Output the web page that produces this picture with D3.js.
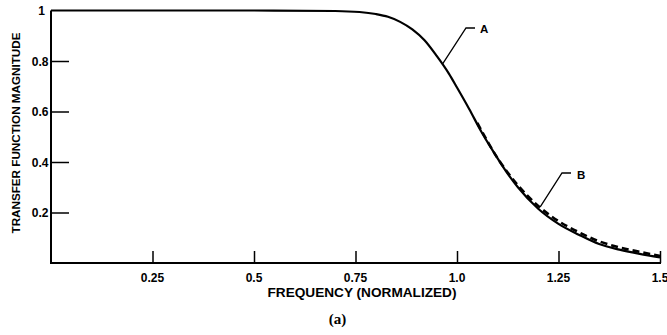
<!DOCTYPE html>
<html><head><meta charset="utf-8">
<script src="https://cdn.jsdelivr.net/npm/d3@7"></script>
<style>
html,body{margin:0;padding:0;background:#fff;}
svg{display:block;}
text{font-family:"Liberation Sans",Arial,sans-serif;fill:#000;}
</style></head>
<body>
<svg id="c" width="667" height="335"></svg>
<script>
const freqA = [0, 0.25, 0.5, 0.7, 0.76, 0.8, 0.83, 0.86, 0.89, 0.92, 0.95, 0.98, 1.0, 1.03, 1.06, 1.09, 1.12, 1.15, 1.2, 1.25, 1.3, 1.35, 1.4, 1.45, 1.5];
const magA  = [1.0, 1.0, 1.0, 0.998, 0.994, 0.986, 0.975, 0.955, 0.925, 0.882, 0.82, 0.75, 0.695, 0.61, 0.52, 0.44, 0.365, 0.30, 0.215, 0.155, 0.112, 0.075, 0.053, 0.036, 0.022];
const freqB = [1.05, 1.1, 1.15, 1.2, 1.25, 1.3, 1.35, 1.4, 1.45, 1.5];
const magB  = [0.555, 0.415, 0.308, 0.226, 0.166, 0.122, 0.086, 0.062, 0.044, 0.028];
const xTicks = [0.25, 0.5, 0.75, 1.0, 1.25, 1.5];
const xTickLabels = ["0.25", "0.5", "0.75", "1.0", "1.25", "1.5"];
const yTicks = [0.2, 0.4, 0.6, 0.8, 1.0];
const yTickLabels = ["0.2", "0.4", "0.6", "0.8", "1"];

const svg = d3.select("#c");
const x = d3.scaleLinear().domain([0, 1.5]).range([51, 660]);
const y = d3.scaleLinear().domain([0, 1]).range([263, 10.5]);

// axes frame
svg.append("line").attr("x1", x(0)).attr("x2", x(0)).attr("y1", y(1)).attr("y2", y(0))
  .attr("stroke", "#000").attr("stroke-width", 2);
svg.append("line").attr("x1", x(0) - 1).attr("x2", x(1.5) + 1).attr("y1", y(0)).attr("y2", y(0))
  .attr("stroke", "#000").attr("stroke-width", 2);

// x ticks (upward)
const xAxis = d3.axisTop(x).tickValues(xTicks).tickSize(12).tickFormat("");
const gx = svg.append("g").attr("transform", `translate(0,${y(0)})`).call(xAxis);
gx.select(".domain").remove();
gx.selectAll(".tick line").attr("stroke", "#000").attr("stroke-width", 1.5);
svg.selectAll(".xl").data(xTicks).enter().append("text")
  .attr("x", d => x(d)).attr("y", 282)
  .attr("text-anchor", "middle").attr("font-size", 12).attr("font-weight", "bold")
  .text((d, i) => xTickLabels[i]);

// y ticks (rightward)
const yAxis = d3.axisRight(y).tickValues(yTicks.filter(d => d < 1)).tickSize(18).tickFormat("");
const gy = svg.append("g").attr("transform", `translate(${x(0)},0)`).call(yAxis);
gy.select(".domain").remove();
gy.selectAll(".tick line").attr("stroke", "#000").attr("stroke-width", 1.5);
svg.selectAll(".yl").data(yTicks).enter().append("text")
  .attr("x", d => d === 1 ? 45 : 48.5).attr("y", d => y(d) + 4.5)
  .attr("text-anchor", "end").attr("font-size", 12).attr("font-weight", "bold")
  .text((d, i) => yTickLabels[i]);

// curves
const line = d3.line().x(d => x(d[0])).y(d => y(d[1])).curve(d3.curveMonotoneX);
svg.append("path").datum(freqA.map((f, i) => [f, magA[i]]))
  .attr("d", line).attr("fill", "none").attr("stroke", "#000").attr("stroke-width", 2.2);
svg.append("path").datum(freqB.map((f, i) => [f, magB[i]]))
  .attr("d", line).attr("fill", "none").attr("stroke", "#000").attr("stroke-width", 2.6)
  .attr("stroke-dasharray", "7,4");

// annotation A
svg.append("path").attr("d", `M${x(0.965)},${y(0.79)} L466,28 L475,28`)
  .attr("fill", "none").attr("stroke", "#000").attr("stroke-width", 1.3);
svg.append("text").attr("x", 480).attr("y", 33).attr("font-size", 11.5).attr("font-weight", "bold").text("A");
// annotation B
svg.append("path").attr("d", `M${x(1.205)},${y(0.222)} L562,173 L571,173`)
  .attr("fill", "none").attr("stroke", "#000").attr("stroke-width", 1.3);
svg.append("text").attr("x", 577).attr("y", 179).attr("font-size", 11.5).attr("font-weight", "bold").text("B");

// axis titles
svg.append("text").attr("transform", "translate(19.5,133) rotate(-90)")
  .attr("text-anchor", "middle").attr("font-size", 11).attr("font-weight", "bold")
  .attr("textLength", 201).attr("lengthAdjust", "spacingAndGlyphs")
  .text("TRANSFER  FUNCTION  MAGNITUDE");
svg.append("text").attr("x", 362).attr("y", 297)
  .attr("text-anchor", "middle").attr("font-size", 12).attr("font-weight", "bold")
  .attr("textLength", 189).attr("lengthAdjust", "spacingAndGlyphs")
  .text("FREQUENCY (NORMALIZED)");
svg.append("text").attr("x", 337.5).attr("y", 324)
  .attr("text-anchor", "middle").attr("font-size", 15).attr("font-weight", "bold")
  .style("font-family", "'Liberation Serif','Times New Roman',serif")
  .text("(a)");
</script>
</body></html>
